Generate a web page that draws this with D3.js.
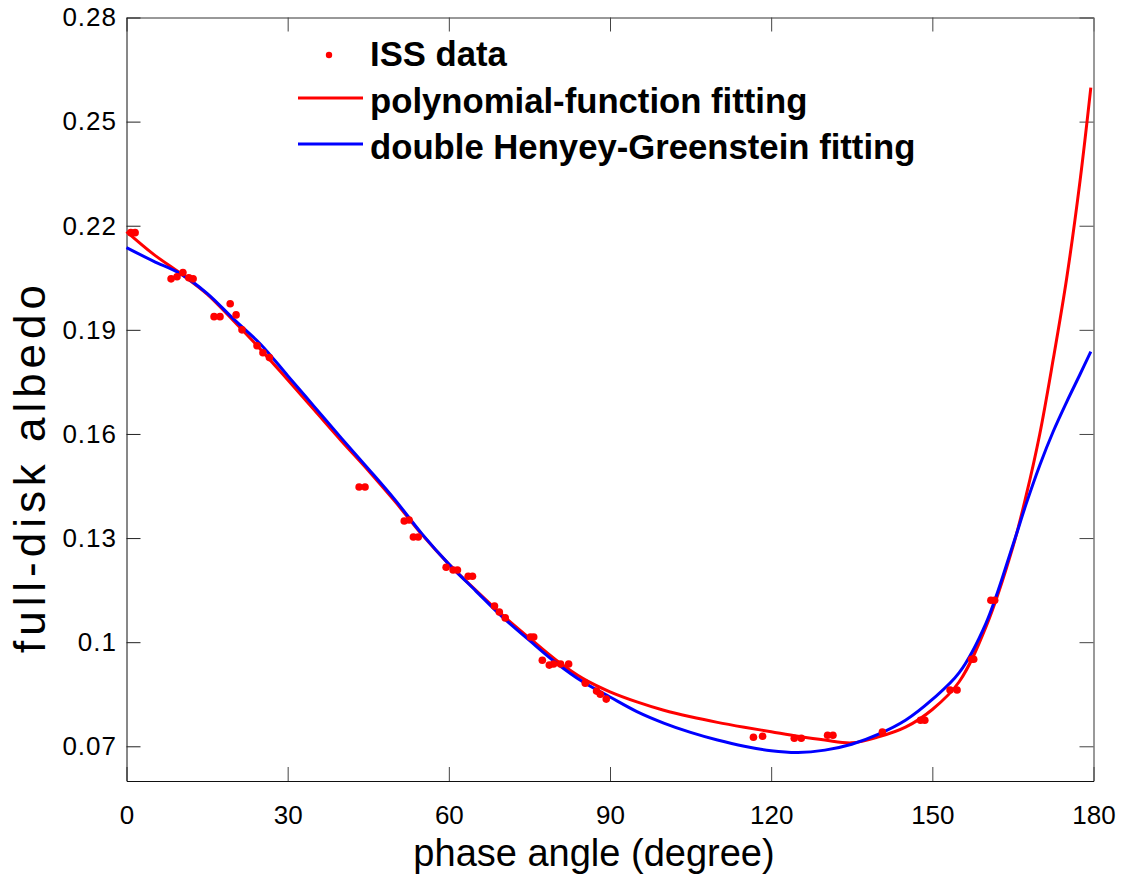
<!DOCTYPE html>
<html>
  <head>
    <title>Full-disk albedo vs phase angle</title>
    <meta charset="utf-8" />
    <style>
      body { margin: 0; background: #fff; }
    </style>
  </head>
  <body>
    <div id="chart"></div>
    <script src="https://d3js.org/d3.v7.min.js"></script>
    <script type="text/javascript">
        // ISS observations: phase angle (deg) and full-disk albedo
        const issAngle = [0.8, 1.6, 8.3, 9.4, 10.5, 11.6, 12.4, 16.3, 17.4, 19.3, 20.4, 21.5,
            24.3, 25.4, 26.6, 43.3, 44.4, 51.7, 52.6, 53.4, 54.3, 59.5, 60.8, 61.6, 63.6, 64.4,
            68.5, 69.4, 70.5, 75.2, 75.8, 77.4, 78.7, 79.5, 80.8, 82.3, 85.4, 87.5, 88.2, 89.3,
            116.7, 118.4, 124.3, 125.6, 130.5, 131.5, 140.7, 147.8, 148.6, 153.3, 154.6,
            157.3, 157.7, 160.9, 161.6];
        const issAlbedo = [0.2180, 0.2180, 0.2047, 0.2053, 0.2065, 0.2050, 0.2047, 0.1938, 0.1938, 0.1975, 0.1943, 0.1900,
            0.1854, 0.1834, 0.1820, 0.1447, 0.1447, 0.1349, 0.1352, 0.1303, 0.1303, 0.1216, 0.1208, 0.1208, 0.1190, 0.1190,
            0.1104, 0.1087, 0.1070, 0.1015, 0.1015, 0.0948, 0.0934, 0.0937, 0.0937, 0.0937, 0.0882, 0.0859, 0.0850, 0.0836,
            0.0726, 0.0729, 0.0723, 0.0723, 0.0732, 0.0732, 0.0741, 0.0775, 0.0775, 0.0862, 0.0862,
            0.0951, 0.0951, 0.1121, 0.1121];

        // fitted curves, sampled along the phase angle
        const fitAngle = [0, 5, 10, 15, 20, 25, 30, 35, 40, 45, 50, 55, 60, 65, 70, 75, 80, 85, 90,
            95, 100, 105, 110, 115, 120, 125, 130, 135, 140, 145, 150, 155, 160, 165, 167.5, 170,
            172.5, 175, 177.5, 179.5];
        const polyFit = [0.2183, 0.2118, 0.2063, 0.2003, 0.1925, 0.1843, 0.1756, 0.1668, 0.1580, 0.1495, 0.1405, 0.1310, 0.1225, 0.1150, 0.1078, 0.1012, 0.0948, 0.0895, 0.0857,
            0.0828, 0.0804, 0.0785, 0.0769, 0.0755, 0.0742, 0.0729, 0.0718, 0.0710, 0.0727, 0.0755, 0.0806, 0.0886, 0.1045, 0.1275, 0.1425, 0.1600,
            0.1815, 0.2048, 0.2330, 0.2598];
        const hgFit = [0.2137, 0.2098, 0.2062, 0.2005, 0.1930, 0.1858, 0.1768, 0.1678, 0.1588, 0.1500, 0.1410, 0.1312, 0.1225, 0.1148, 0.1072, 0.1005, 0.0940, 0.0885, 0.0842,
            0.0800, 0.0767, 0.0740, 0.0718, 0.0700, 0.0687, 0.0682, 0.0689, 0.0706, 0.0735, 0.0775, 0.0835, 0.0912, 0.1055, 0.1280, 0.1400, 0.1510,
            0.1607, 0.1692, 0.1772, 0.1837];

        const xTicks = [0, 30, 60, 90, 120, 150, 180];
        const yTicks = [0.07, 0.10, 0.13, 0.16, 0.19, 0.22, 0.25, 0.28];
        const yTickLabels = ["0.07", "0.1", "0.13", "0.16", "0.19", "0.22", "0.25", "0.28"];

        const legendLabels = ["ISS data", "polynomial-function fitting", "double Henyey-Greenstein fitting"];

        const width = 1131;
        const height = 877;
        const margin = ({top: 17.5, right: 37.5, bottom: 96, left: 126.5});

        const x = d3.scaleLinear()
            .domain([0, 180])
            .range([margin.left, width - margin.right]);
        const y = d3.scaleLinear()
            .domain([0.06, 0.28])
            .range([height - margin.bottom, margin.top]);

        const svg = d3.select("#chart")
            .append("svg")
            .attr("width", width)
            .attr("height", height)
            .style("font-family", "'Liberation Sans', Arial, sans-serif");

        svg.append("rect")
            .attr("width", width)
            .attr("height", height)
            .attr("fill", "#fff");

        const tickLen = 14;

        // top and right (box) axes, no labels
        svg.append("g")
            .attr("transform", `translate(0,${margin.top})`)
            .call(d3.axisTop(x).tickValues(xTicks).tickSizeInner(-tickLen).tickSizeOuter(0).tickFormat(""))
            .call(g => g.selectAll("line").attr("stroke", "#444"))
            .call(g => g.select(".domain").attr("stroke", "#333"));
        svg.append("g")
            .attr("transform", `translate(${width - margin.right},0)`)
            .call(d3.axisRight(y).tickValues(yTicks).tickSizeInner(-tickLen).tickSizeOuter(0).tickFormat(""))
            .call(g => g.selectAll("line").attr("stroke", "#444"))
            .call(g => g.select(".domain").attr("stroke", "#777").attr("stroke-width", 1.5));

        // bottom axis
        svg.append("g")
            .attr("transform", `translate(0,${height - margin.bottom})`)
            .call(d3.axisBottom(x).tickValues(xTicks).tickSizeInner(-tickLen).tickSizeOuter(0).tickPadding(24.5))
            .call(g => g.selectAll("line").attr("stroke", "#444"))
            .call(g => g.select(".domain").attr("stroke", "#111"))
            .call(g => g.selectAll("text")
                .attr("fill", "#000")
                .attr("font-size", 26)
                .attr("font-family", "'Liberation Sans', Arial, sans-serif"));

        // left axis
        svg.append("g")
            .attr("transform", `translate(${margin.left},0)`)
            .call(d3.axisLeft(y).tickValues(yTicks).tickSizeInner(-tickLen).tickSizeOuter(0).tickPadding(9.5)
                .tickFormat((d, i) => yTickLabels[i]))
            .call(g => g.selectAll("line").attr("stroke", "#222"))
            .call(g => g.select(".domain").attr("stroke", "#111"))
            .call(g => g.selectAll("text")
                .attr("fill", "#000")
                .attr("font-size", 26)
                .attr("letter-spacing", 1)
                .attr("font-family", "'Liberation Sans', Arial, sans-serif"));

        // axis titles
        svg.append("text")
            .attr("x", 594)
            .attr("y", 866)
            .attr("text-anchor", "middle")
            .attr("font-size", 38)
            .text("phase angle (degree)");

        svg.append("text")
            .attr("transform", "translate(45,469) rotate(-90)")
            .attr("text-anchor", "middle")
            .attr("font-size", 44)
            .attr("textLength", 368)
            .attr("lengthAdjust", "spacing")
            .text("full-disk albedo");

        // fitted curves
        const line = d3.line()
            .x(d => x(d[0]))
            .y(d => y(d[1]))
            .curve(d3.curveCatmullRom.alpha(0.5));

        svg.append("path")
            .datum(fitAngle.map((a, i) => [a, polyFit[i]]))
            .attr("fill", "none")
            .attr("stroke", "#ff0000")
            .attr("stroke-width", 3)
            .attr("d", line);

        svg.append("path")
            .datum(fitAngle.map((a, i) => [a, hgFit[i]]))
            .attr("fill", "none")
            .attr("stroke", "#0000ff")
            .attr("stroke-width", 3)
            .attr("d", line);

        // ISS data points
        svg.append("g")
            .attr("fill", "#ff0000")
            .selectAll("circle")
            .data(issAngle.map((a, i) => [a, issAlbedo[i]]))
            .join("circle")
            .attr("cx", d => x(d[0]))
            .attr("cy", d => y(d[1]))
            .attr("r", 3.8);

        // legend
        const legend = svg.append("g")
            .attr("font-size", 34.7)
            .attr("font-weight", "bold");

        legend.append("circle")
            .attr("cx", 329)
            .attr("cy", 55)
            .attr("r", 3.2)
            .attr("fill", "#ff0000");
        legend.append("line")
            .attr("x1", 298).attr("x2", 363)
            .attr("y1", 98).attr("y2", 98)
            .attr("stroke", "#ff0000")
            .attr("stroke-width", 3);
        legend.append("line")
            .attr("x1", 298).attr("x2", 363)
            .attr("y1", 144).attr("y2", 144)
            .attr("stroke", "#0000ff")
            .attr("stroke-width", 3);

        legend.selectAll("text")
            .data(legendLabels)
            .join("text")
            .attr("x", 370)
            .attr("y", (d, i) => 66 + i * 46.5)
            .text(d => d);
    </script>
  </body>
</html>
